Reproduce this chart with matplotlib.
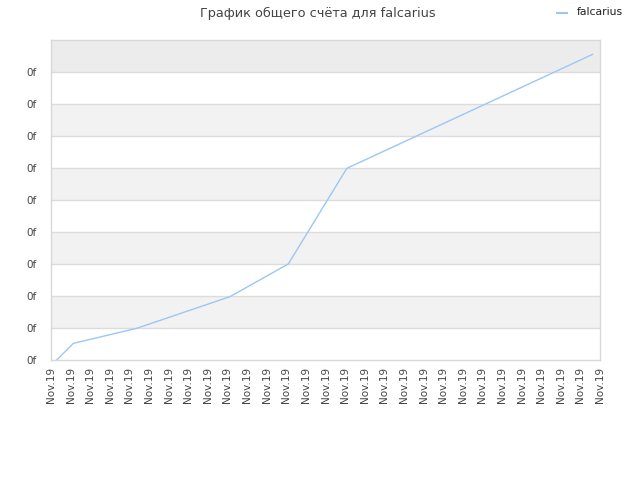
import matplotlib
matplotlib.use("Agg")
import matplotlib.pyplot as plt
from matplotlib.lines import Line2D

title = "График общего счёта для falcarius"
series_name = "falcarius"
tick_labels = ["Nov.19"] * 29
y_tick_labels = ["0f"] * 10

# data (x in day-units along the axis, y in score units)
x_vals = [0.29, 1.14, 4.37, 9.13, 12.1, 15.09, 27.62]
y_vals = [0.0, 0.52, 0.99, 1.98, 3.0, 5.99, 9.55]

line_color = "#9cc7f3"

fig = plt.figure(figsize=(6.4, 4.8), dpi=100)
ax = fig.add_axes([51/640, 120/480, 549/640, 320/480])

ax.set_xlim(0, 28)
ax.set_ylim(0, 10)

# alternating bands
band_colors = ["#ffffff", "#f2f2f2"]
for i in range(10):
    c = band_colors[i % 2] if i < 9 else "#ececec"
    ax.axhspan(i, i + 1, color=c, zorder=0, lw=0)
for i in range(1, 10):
    ax.axhline(i, color="#dcdcdc", lw=1, zorder=1)

ax.plot(x_vals, y_vals, color=line_color, lw=1.0, zorder=3)

ax.set_xticks(range(29))
ax.set_xticklabels(tick_labels, rotation=90, fontsize=7.5, color="#444444")
ax.set_yticks(range(10))
ax.set_yticklabels(y_tick_labels, fontsize=7.5, color="#444444")
ax.tick_params(axis="x", length=0, pad=5)
ax.tick_params(axis="y", length=0, pad=10)
for s in ax.spines.values():
    s.set_color("#d8d8d8")
    s.set_linewidth(1)

fig.text(318/640, 1 - 13/480, title, ha="center", va="center", fontsize=9.3, color="#444444")

# legend
fig.add_artist(Line2D([557/640, 567/640], [1 - 13/480, 1 - 13/480], color=line_color, lw=1.5))
fig.text(577/640, 1 - 12/480, series_name, ha="left", va="center", fontsize=7.8, color="#222222")

fig.savefig("out.png", dpi=100)
